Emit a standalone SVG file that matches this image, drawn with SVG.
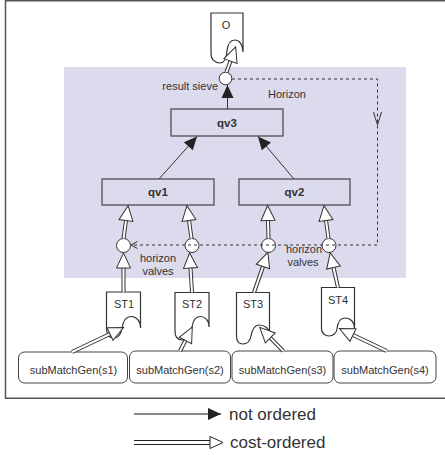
<svg xmlns="http://www.w3.org/2000/svg" width="445" height="455" viewBox="0 0 445 455">
<style>
text{font-family:"Liberation Sans",Arial,sans-serif;fill:#333}
.lbl{font-size:11px}
.bold{font-size:11.5px;font-weight:bold}
.box{fill:none;stroke:#444;stroke-width:1.2}
.doc{fill:#fff;stroke:#333;stroke-width:1.2}
.circ{fill:#fff;stroke:#333;stroke-width:1}
.rbox{fill:#fff;stroke:#444;stroke-width:1}
.plain{fill:none;stroke:#333;stroke-width:1}
.dbo{fill:none;stroke:#333;stroke-width:4}
.dbi{fill:none;stroke:#fff;stroke-width:2;marker-end:url(#hollow)}
.dash{fill:none;stroke:#333;stroke-width:1;stroke-dasharray:3 3}
.arr{fill:none;stroke:#333;stroke-width:1;marker-end:url(#filled)}
</style>
<defs>
<marker id="filled" markerUnits="userSpaceOnUse" viewBox="-14 -7 15 14" markerWidth="15" markerHeight="14" refX="0" refY="0" orient="auto">
<path d="M-13,-6 L0,0 L-13,6 Z" fill="#222"/>
</marker>
<marker id="hollow" markerUnits="userSpaceOnUse" viewBox="-1 -8.5 18 17" markerWidth="18" markerHeight="17" refX="0" refY="0" orient="auto">
<path d="M0,-7 L15,0 L0,7 Z" fill="#fff" stroke="#333" stroke-width="1"/>
</marker>
<marker id="hollowL" markerUnits="userSpaceOnUse" viewBox="-1 -7.5 16 15" markerWidth="16" markerHeight="15" refX="0" refY="0" orient="auto">
<path d="M0,-6 L13,0 L0,6 Z" fill="#fff" stroke="#222" stroke-width="1"/>
</marker>
</defs>
<rect x="0" y="0" width="445" height="455" fill="#fff"/>
<rect x="5.5" y="0.75" width="445" height="397.5" fill="none" stroke="#555" stroke-width="1.5"/>
<rect x="64" y="67" width="342" height="211" fill="#dcdaed"/>

<g id="O">
<path class="doc" d="M211,13 H243 V52 C243,45 239.5,40 235,40 C230,40 227.5,45 227,51 C226.5,58 224,63 220,63 C214.5,63 211,59 211,54 Z"/>
<text class="lbl" x="226" y="28.5" text-anchor="middle" font-size="10">O</text>
</g>
<g id="sieve">
<circle class="circ" cx="225.5" cy="78.5" r="6.3"/>
<text class="lbl" x="218" y="89.5" text-anchor="end">result sieve</text>
</g>
<text class="lbl" x="268" y="97.5">Horizon</text>
<g id="qv3">
<rect class="box" x="171" y="109" width="112" height="27"/>
<text class="bold" x="227" y="126.5" text-anchor="middle">qv3</text>
</g>
<g id="qv1">
<rect class="box" x="102" y="179" width="112" height="26"/>
<text class="bold" x="158" y="196" text-anchor="middle">qv1</text>
</g>
<g id="qv2">
<rect class="box" x="239" y="179" width="111" height="26"/>
<text class="bold" x="294.5" y="196" text-anchor="middle">qv2</text>
</g>
<g id="valve1"><circle class="circ" cx="123.5" cy="245.5" r="7"/></g>
<g id="valve2"><circle class="circ" cx="192" cy="245.5" r="7"/></g>
<g id="valve3"><circle class="circ" cx="268.5" cy="245.5" r="7"/></g>
<g id="valve4"><circle class="circ" cx="329" cy="245.5" r="7"/></g>
<text class="lbl" x="158" y="262" text-anchor="middle">horizon</text>
<text class="lbl" x="158" y="275" text-anchor="middle">valves</text>
<text class="lbl" x="304" y="252.5" text-anchor="middle">horizon</text>
<text class="lbl" x="303" y="265.5" text-anchor="middle">valves</text>

<g id="ST1">
<path class="doc" d="M106.5,292 H140.5 V328 C140.5,321 136.5,316.5 131,316.5 C125,316.5 123,322 122,328 C121,334 118,338 114,338 C109,338 106.5,334 106.5,328 Z"/>
<text class="lbl" x="124" y="307.5" text-anchor="middle" font-size="11.5">ST1</text>
</g>
<g id="ST2">
<path class="doc" d="M175,292.5 H209 V327 C209,320 205,316.5 200,316.5 C195,316.5 193,321 192,327 C191,335 187,340 182,340 C177,340 175,336 175,331 Z"/>
<text class="lbl" x="192" y="308" text-anchor="middle" font-size="11.5">ST2</text>
</g>
<g id="ST3">
<path class="doc" d="M236.5,292.5 H269.5 V333 C269.5,329 265,325 259,325 C254,325 252,330 251,336 C250,341 247,344 243,344 C239,344 236.5,341 236.5,336 Z"/>
<text class="lbl" x="253" y="307.5" text-anchor="middle" font-size="11.5">ST3</text>
</g>
<g id="ST4">
<path class="doc" d="M321.5,287.5 H354.5 V328 C354.5,322 350.5,318 345,318 C340,318 337.5,323 337,329 C336.5,333 333,336 329,336 C325,336 321.5,333 321.5,329 Z"/>
<text class="lbl" x="338" y="303.5" text-anchor="middle" font-size="11.5">ST4</text>
</g>

<g id="gen1"><rect class="rbox" x="18.5" y="352" width="109" height="31" rx="6"/><text class="lbl" x="73.5" y="374" text-anchor="middle">subMatchGen(s1)</text></g>
<g id="gen2"><rect class="rbox" x="129.5" y="351" width="101" height="32" rx="6"/><text class="lbl" x="180" y="373.5" text-anchor="middle">subMatchGen(s2)</text></g>
<g id="gen3"><rect class="rbox" x="232" y="351" width="101" height="32" rx="6"/><text class="lbl" x="282.5" y="373.5" text-anchor="middle">subMatchGen(s3)</text></g>
<g id="gen4"><rect class="rbox" x="334" y="351" width="102" height="32" rx="6"/><text class="lbl" x="385" y="373.5" text-anchor="middle">subMatchGen(s4)</text></g>

<g id="connectors">
<line class="arr" x1="227.5" y1="109" x2="227.5" y2="85"/>
<line class="arr" x1="159" y1="179" x2="197" y2="136.5"/>
<line class="arr" x1="294" y1="179" x2="258" y2="136.5"/>

<line class="dbo" x1="226.5" y1="72" x2="230.5" y2="61"/><line class="dbi" x1="226.5" y1="72" x2="230.5" y2="61"/>

<line class="dbo" x1="123.5" y1="238.5" x2="126" y2="220.5"/><line class="dbi" x1="123.5" y1="238.5" x2="126" y2="220.5"/>
<line class="dbo" x1="191.5" y1="238.5" x2="189" y2="220.5"/><line class="dbi" x1="191.5" y1="238.5" x2="189" y2="220.5"/>
<line class="dbo" x1="268.5" y1="238.5" x2="268" y2="220.5"/><line class="dbi" x1="268.5" y1="238.5" x2="268" y2="220.5"/>
<line class="dbo" x1="328.5" y1="238.5" x2="326" y2="220.5"/><line class="dbi" x1="328.5" y1="238.5" x2="326" y2="220.5"/>

<line class="dbo" x1="123.5" y1="292" x2="123.5" y2="268"/><line class="dbi" x1="123.5" y1="292" x2="123.5" y2="268"/>
<line class="dbo" x1="192" y1="292.5" x2="190.5" y2="268"/><line class="dbi" x1="192" y1="292.5" x2="190.5" y2="268"/>
<line class="dbo" x1="254" y1="292.5" x2="263" y2="266.5"/><line class="dbi" x1="254" y1="292.5" x2="263" y2="266.5"/>
<line class="dbo" x1="338" y1="287.5" x2="333.5" y2="267.5"/><line class="dbi" x1="338" y1="287.5" x2="333.5" y2="267.5"/>

<line class="dbo" x1="72" y1="352" x2="110" y2="334"/><line class="dbi" x1="72" y1="352" x2="110" y2="334"/>
<line class="dbo" x1="180" y1="351" x2="185.4" y2="340.5"/><line class="dbi" x1="180" y1="351" x2="185.4" y2="340.5"/>
<line class="dbo" x1="283.3" y1="351" x2="270.3" y2="337.9"/><line class="dbi" x1="283.3" y1="351" x2="270.3" y2="337.9"/>
<line class="dbo" x1="386.7" y1="351" x2="353" y2="335"/><line class="dbi" x1="386.7" y1="351" x2="353" y2="335"/>

<path class="dash" d="M232,79 H377.5 V245 H131"/>
<polyline class="plain" points="373.5,112 377.5,125 381.5,112"/>
<polyline class="plain" points="137.5,241.5 131,245 137.5,248.5"/>
</g>

<g id="legend">
<line x1="134" y1="414" x2="221" y2="414" stroke="#111" stroke-width="1.2" marker-end="url(#filled)"/>
<text x="229" y="420" font-size="17">not ordered</text>
<line x1="134" y1="442.5" x2="210" y2="442.5" stroke="#222" stroke-width="5"/>
<line x1="134" y1="442.5" x2="210" y2="442.5" stroke="#fff" stroke-width="3" marker-end="url(#hollowL)"/>
<text x="230" y="448" font-size="17">cost-ordered</text>
</g>
</svg>
